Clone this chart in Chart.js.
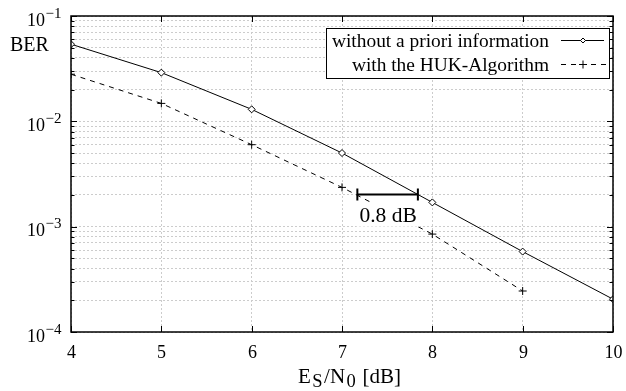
<!DOCTYPE html>
<html>
<head>
<meta charset="utf-8">
<script src="https://cdn.jsdelivr.net/npm/chart.js@4.4.1/dist/chart.umd.min.js"></script>
<style>
html,body{margin:0;padding:0;background:#fff;}
#wrap{width:626px;height:391px;}
</style>
</head>
<body>
<div id="wrap"><canvas id="c" width="626" height="391"></canvas></div>
<script>
// ---- data ----
const snrNoPriori = [4, 5, 6, 7, 8, 9, 10];
const berNoPriori = [0.054, 0.029, 0.013, 0.0050, 0.0017, 0.00058, 0.000205];
const snrHuk = [4, 5, 6, 7, 8, 9];
const berHuk = [0.028, 0.0148, 0.0060, 0.00236, 0.00085, 0.000245];
const seriesNames = ['without a priori information', 'with the HUK-Algorithm'];
const xTickLabels = ['4', '5', '6', '7', '8', '9', '10'];
const yDecadeExponents = [-1, -2, -3, -4];
const gapFrom = 7.17, gapTo = 7.84, gapBer = 0.00202, gapLabel = '0.8 dB';
const yAxisLabel = 'BER';

const SERIF = '"Liberation Serif", "Times New Roman", "DejaVu Serif", serif';

const custom = {
  id: 'custom',
  afterDraw(chart) {
    const ctx = chart.ctx;
    const a = chart.chartArea;
    const xs = chart.scales.x, ys = chart.scales.y;
    ctx.save();
    // frame
    ctx.strokeStyle = '#000';
    ctx.lineWidth = 1.5;
    ctx.strokeRect(a.left, a.top, a.right - a.left, a.bottom - a.top);
    // inward ticks y
    ctx.lineWidth = 1;
    for (let e = -4; e <= -1; e++) {
      for (let m = 1; m <= 9; m++) {
        const v = m * Math.pow(10, e);
        if (v > 0.1 + 1e-12) continue;
        const y = Math.round(ys.getPixelForValue(v)) + 0.5;
        const len = m === 1 ? 6 : 3.5;
        ctx.beginPath();
        ctx.moveTo(a.left, y); ctx.lineTo(a.left + len, y);
        ctx.moveTo(a.right, y); ctx.lineTo(a.right - len, y);
        ctx.stroke();
      }
    }
    // inward ticks x and x labels
    ctx.fillStyle = '#000';
    ctx.font = '18px ' + SERIF;
    ctx.textAlign = 'center';
    ctx.textBaseline = 'alphabetic';
    xTickLabels.forEach(t => {
      const x = Math.round(xs.getPixelForValue(Number(t))) + 0.5;
      ctx.beginPath();
      ctx.moveTo(x, a.bottom); ctx.lineTo(x, a.bottom - 6);
      ctx.moveTo(x, a.top); ctx.lineTo(x, a.top + 6);
      ctx.stroke();
      ctx.fillText(t, x, a.bottom + 26);
    });
    // y labels 10^e
    yDecadeExponents.forEach(e => {
      const y = ys.getPixelForValue(Math.pow(10, e));
      ctx.font = '15px ' + SERIF;
      ctx.textAlign = 'left';
      const sup = '\u2212' + String(-e);
      ctx.fillText(sup, 45.5, y + 1.5);
      ctx.font = '18px ' + SERIF;
      ctx.textAlign = 'right';
      ctx.fillText('10', 45, y + 9.5);
    });
    // BER label
    ctx.font = '20px ' + SERIF;
    ctx.textAlign = 'left';
    ctx.fillText(yAxisLabel, 10, 51);
    // x title: E_S/N_0 [dB]
    {
      const parts = [['E', 21, 0], ['S', 18.5, 4], ['/N', 21, 0], ['0', 18.5, 4], [' [dB]', 21, 0]];
      const gap = 1.5;
      let total = 0;
      parts.forEach(p => { ctx.font = p[1] + 'px ' + SERIF; total += ctx.measureText(p[0]).width; });
      total += gap * (parts.length - 1);
      let x = 349.5 - total / 2;
      const base = 382.5;
      ctx.textAlign = 'left';
      parts.forEach(p => {
        ctx.font = p[1] + 'px ' + SERIF;
        ctx.fillText(p[0], x, base + p[2]);
        x += ctx.measureText(p[0]).width + gap;
      });
    }
    // legend
    {
      const bx = 326, by = 28, bw = 283, bh = 50;
      ctx.fillStyle = '#fff';
      ctx.fillRect(bx, by, bw, bh);
      ctx.strokeStyle = '#000';
      ctx.lineWidth = 1;
      ctx.strokeRect(bx + 0.5, by + 0.5, bw, bh);
      ctx.fillStyle = '#000';
      ctx.font = '19.4px ' + SERIF;
      ctx.textAlign = 'right';
      const rows = [47, 71];
      seriesNames.forEach((n, i) => ctx.fillText(n, 549, rows[i]));
      // sample 1
      let y = rows[0] - 6.5;
      ctx.beginPath(); ctx.setLineDash([]); ctx.moveTo(561, y); ctx.lineTo(604, y); ctx.stroke();
      ctx.beginPath(); ctx.moveTo(583, y - 2.5); ctx.lineTo(585.5, y); ctx.lineTo(583, y + 2.5); ctx.lineTo(580.5, y); ctx.closePath();
      ctx.fillStyle = '#fff'; ctx.fill(); ctx.stroke();
      // sample 2
      y = rows[1] - 6.5;
      ctx.beginPath(); ctx.setLineDash([5, 5]); ctx.moveTo(561, y); ctx.lineTo(606, y); ctx.stroke();
      ctx.setLineDash([]);
      ctx.beginPath(); ctx.moveTo(579, y); ctx.lineTo(587, y); ctx.moveTo(583, y - 4); ctx.lineTo(583, y + 4); ctx.stroke();
    }
    // gap annotation
    {
      const x1 = xs.getPixelForValue(gapFrom), x2 = xs.getPixelForValue(gapTo);
      const y = ys.getPixelForValue(gapBer);
      ctx.font = '21.5px ' + SERIF;
      ctx.textAlign = 'center';
      const cx = (x1 + x2) / 2 + 0.5;
      const w = ctx.measureText(gapLabel).width;
      ctx.fillStyle = '#fff';
      ctx.fillRect(cx - w / 2 - 3, y + 8, w + 6, 24);
      ctx.fillStyle = '#000';
      ctx.fillText(gapLabel, cx, y + 27);
      ctx.strokeStyle = '#000';
      ctx.lineWidth = 2;
      ctx.beginPath();
      ctx.moveTo(x1, y); ctx.lineTo(x2, y);
      ctx.moveTo(x1, y - 6); ctx.lineTo(x1, y + 6);
      ctx.moveTo(x2, y - 6); ctx.lineTo(x2, y + 6);
      ctx.stroke();
    }
    ctx.restore();
  }
};

const gridStyle = { color: '#cccccc', lineWidth: 1, drawTicks: false };

new Chart(document.getElementById('c'), {
  type: 'line',
  data: {
    datasets: [
      {
        label: seriesNames[0],
        data: snrNoPriori.map((x, i) => ({ x, y: berNoPriori[i] })),
        borderColor: '#000', borderWidth: 1, backgroundColor: '#fff',
        pointStyle: 'rectRot', pointRadius: 3.5, pointBorderWidth: 1,
        pointBackgroundColor: '#fff', pointBorderColor: '#000', tension: 0
      },
      {
        label: seriesNames[1],
        data: snrHuk.map((x, i) => ({ x, y: berHuk[i] })),
        borderColor: '#000', borderWidth: 1, borderDash: [5, 5],
        pointStyle: 'cross', pointRadius: 4, pointBorderWidth: 1,
        pointBorderColor: '#000', tension: 0
      }
    ]
  },
  options: {
    responsive: false,
    animation: false,
    devicePixelRatio: 1,
    layout: { padding: { left: 71, right: 13, top: 16, bottom: 59 } },
    plugins: { legend: { display: false }, tooltip: { enabled: false } },
    scales: {
      x: {
        type: 'linear', min: 4, max: 10,
        ticks: { display: false, stepSize: 1 },
        grid: gridStyle,
        border: { display: false, dash: [2, 2] }
      },
      y: {
        type: 'logarithmic', min: 1e-4, max: 1e-1,
        ticks: { display: false },
        afterBuildTicks(scale) {
          const t = [];
          for (let e = -4; e <= -2; e++) for (let m = 1; m <= 9; m++) t.push({ value: m * Math.pow(10, e) });
          t.push({ value: 0.1 });
          scale.ticks = t;
        },
        grid: gridStyle,
        border: { display: false, dash: [2, 2] }
      }
    }
  },
  plugins: [custom]
});
</script>
</body>
</html>
